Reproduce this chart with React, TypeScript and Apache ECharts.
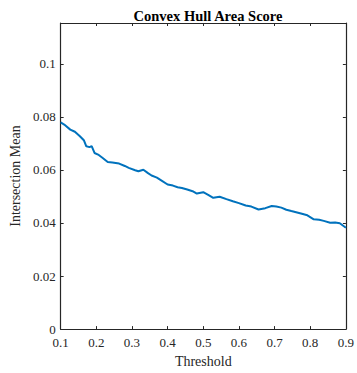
import React, { useEffect, useRef } from "react";
import * as echarts from "echarts";

const thresholds = [0.1, 0.11, 0.127, 0.14, 0.154, 0.165, 0.172, 0.181, 0.187, 0.195, 0.205, 0.218, 0.232, 0.245, 0.264, 0.28, 0.291, 0.309, 0.318, 0.332, 0.345, 0.355, 0.37, 0.382, 0.4, 0.415, 0.428, 0.44, 0.455, 0.47, 0.482, 0.5, 0.515, 0.528, 0.546, 0.565, 0.583, 0.6, 0.619, 0.635, 0.655, 0.674, 0.692, 0.705, 0.719, 0.733, 0.747, 0.774, 0.792, 0.81, 0.825, 0.838, 0.856, 0.87, 0.883, 0.9];
const means = [0.0779, 0.0771, 0.0752, 0.0744, 0.0727, 0.0712, 0.0689, 0.0686, 0.069, 0.0664, 0.0658, 0.0645, 0.063, 0.0628, 0.0624, 0.0615, 0.0608, 0.0599, 0.0595, 0.0601, 0.0588, 0.0579, 0.0571, 0.0561, 0.0545, 0.0541, 0.0535, 0.0532, 0.0526, 0.052, 0.0511, 0.0516, 0.0505, 0.0495, 0.0499, 0.049, 0.0482, 0.0475, 0.0466, 0.0462, 0.0451, 0.0456, 0.0464, 0.0462, 0.0458, 0.045, 0.0445, 0.0436, 0.0429, 0.0414, 0.0412, 0.0408, 0.0401, 0.0402, 0.0399, 0.0382];
const xTicks = [0.1, 0.2, 0.3, 0.4, 0.5, 0.6, 0.7, 0.8, 0.9];
const yTicks = [0, 0.02, 0.04, 0.06, 0.08, 0.1];

const FONT = "Liberation Serif";
const AXIS_COLOR = "#262626";

export default function App() {
  const ref = useRef<HTMLDivElement>(null);
  useEffect(() => {
    if (!ref.current) return;
    const chart = echarts.init(ref.current, null, { renderer: "svg" });
    const tickStyle = { show: true, inside: true, length: 3, lineStyle: { color: AXIS_COLOR, width: 1 } };
    const lineStyle = { show: true, onZero: false, lineStyle: { color: AXIS_COLOR, width: 1.2 } };
    chart.setOption({
      animation: false,
      title: {
        text: "Convex Hull Area Score",
        left: 203,
        textAlign: "center",
        top: 3,
        textStyle: { fontFamily: FONT, fontWeight: "bold", fontSize: 14.5, color: "#000" },
      },
      grid: { left: 57, right: 7, top: 23, bottom: 43, containLabel: false },
      xAxis: [
        {
          type: "value",
          min: 0.1,
          max: 0.9,
          interval: 0.1,
          position: "bottom",
          name: "Threshold",
          nameLocation: "middle",
          nameGap: 24,
          nameTextStyle: { fontFamily: FONT, fontSize: 14, color: "#262626" },
          axisLine: lineStyle,
          axisTick: tickStyle,
          splitLine: { show: false },
          axisLabel: {
            fontFamily: FONT,
            fontSize: 13,
            color: "#262626",
            margin: 7,
            formatter: (v: number) => (xTicks.some((t) => Math.abs(t - v) < 1e-9) ? String(Math.round(v * 10) / 10) : ""),
          },
        },
        {
          type: "value",
          min: 0.1,
          max: 0.9,
          interval: 0.1,
          position: "top",
          axisLine: lineStyle,
          axisTick: tickStyle,
          axisLabel: { show: false },
          splitLine: { show: false },
        },
      ],
      yAxis: [
        {
          type: "value",
          min: 0,
          max: 0.1154,
          interval: 0.02,
          position: "left",
          name: "Intersection Mean",
          nameLocation: "middle",
          nameGap: 37,
          nameTextStyle: { fontFamily: FONT, fontSize: 14, color: "#262626" },
          axisLine: lineStyle,
          axisTick: tickStyle,
          splitLine: { show: false },
          axisLabel: {
            fontFamily: FONT,
            fontSize: 13,
            color: "#262626",
            margin: 5,
            showMaxLabel: false,
            formatter: (v: number) => (yTicks.some((t) => Math.abs(t - v) < 1e-9) ? String(Math.round(v * 100) / 100) : ""),
          },
        },
        {
          type: "value",
          min: 0,
          max: 0.1154,
          interval: 0.02,
          position: "right",
          axisLine: lineStyle,
          axisTick: tickStyle,
          axisLabel: { show: false },
          splitLine: { show: false },
        },
      ],
      series: [
        {
          type: "line",
          xAxisIndex: 0,
          yAxisIndex: 0,
          data: thresholds.map((t, i) => [t, means[i]]),
          showSymbol: false,
          symbol: "none",
          lineStyle: { color: "#0072BD", width: 2 },
          clip: false,
        },
      ],
    });
    return () => chart.dispose();
  }, []);
  return (
    <div
      ref={ref}
      style={{ position: "fixed", left: 0, top: 0, width: 357, height: 373, background: "#fff" }}
    />
  );
}
